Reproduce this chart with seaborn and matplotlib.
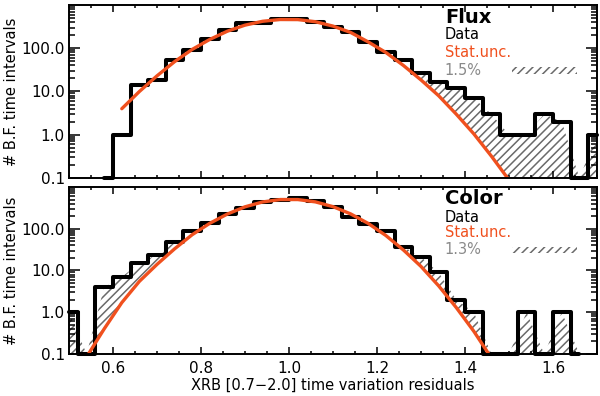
import numpy as np
import matplotlib
matplotlib.use("Agg")
import matplotlib.pyplot as plt
import seaborn as sns
from matplotlib.ticker import FixedLocator, LogLocator, MultipleLocator, FuncFormatter
from matplotlib.patches import Rectangle

# bin centres, bin width 0.04
flux_x = [0.58, 0.62, 0.66, 0.70, 0.74, 0.78, 0.82, 0.86, 0.90, 0.94,
          0.98, 1.02, 1.06, 1.10, 1.14, 1.18, 1.22, 1.26, 1.30, 1.34,
          1.38, 1.42, 1.46, 1.50, 1.54, 1.58, 1.62, 1.66, 1.70]
flux_counts = [0, 1, 14, 18, 53, 91, 164, 264, 377, 380,
               474, 470, 411, 305, 240, 141, 83, 53, 27, 17,
               12, 7, 3, 1, 1, 3, 2, 0, 1]
flux_stat = [np.nan, 4.0, 10, 23, 49, 94, 160, 248, 342, 420,
             462, 460, 410, 325, 232, 140, 80, 40, 18.5, 8.0,
             3.0, 1.05, 0.32, 0.09, np.nan, np.nan, np.nan, np.nan, np.nan]
flux_excess = [(1.28, 1.72)]

color_x = [0.50, 0.54, 0.58, 0.62, 0.66, 0.70, 0.74, 0.78, 0.82, 0.86,
           0.90, 0.94, 0.98, 1.02, 1.06, 1.10, 1.14, 1.18, 1.22, 1.26,
           1.30, 1.34, 1.38, 1.42, 1.46, 1.50, 1.54, 1.58, 1.62, 1.66]
color_counts = [1, 0, 4, 7, 15, 24, 48, 89, 136, 224,
                322, 434, 493, 560, 468, 330, 196, 129, 86, 37,
                21, 9, 2, 1, 0, 0, 1, 0, 1, 0]
color_stat = [np.nan, 0.085, 0.40, 1.7, 5.5, 14, 33, 72, 135, 225,
              335, 438, 500, 500, 440, 338, 227, 134, 69, 31,
              12.5, 4.3, 1.3, 0.35, 0.08, np.nan, np.nan, np.nan, np.nan, np.nan]
color_excess = [(0.48, 0.75), (1.24, 1.70)]

ORANGE = "#F0501E"
HATCH = "#6a6a6a"
GRAY = "#8a8a8a"

sns.set_style("ticks")
plt.rcParams["font.family"] = ["DejaVu Sans"]
plt.rcParams["hatch.color"] = HATCH
plt.rcParams["hatch.linewidth"] = 1.1
plt.rcParams["text.color"] = "black"
plt.rcParams["axes.labelcolor"] = "black"
plt.rcParams["xtick.color"] = "black"
plt.rcParams["ytick.color"] = "black"
plt.rcParams["axes.axisbelow"] = False

fig = plt.figure(figsize=(6.0, 3.96), dpi=100)
ax_top = fig.add_axes([0.115, 0.5505, 0.88, 0.4369])
ax_bot = fig.add_axes([0.115, 0.1061, 0.88, 0.4217])


def draw_panel(ax, x, counts, stat, excess, title, syst, ypos):
    x = np.array(x)
    counts = np.array(counts, dtype=float)
    stat = np.array(stat, dtype=float)
    hist = np.clip(counts, 0.1, None)
    lower = np.clip(np.nan_to_num(stat, nan=0.1), 0.1, None)
    upper = np.maximum(hist, lower)

    for lo, hi in excess:
        mask = (x >= lo) & (x <= hi)
        ax.fill_between(x, lower, upper, where=mask, interpolate=True,
                        facecolor="none", edgecolor=HATCH, hatch="////",
                        linewidth=0, zorder=1)

    sns.lineplot(x=x, y=hist, ax=ax, color="black", linewidth=2.9,
                 drawstyle="steps-mid", estimator=None, sort=False,
                 zorder=3, clip_on=False)
    ok = ~np.isnan(stat)
    sns.lineplot(x=x[ok], y=stat[ok], ax=ax, color=ORANGE, linewidth=2.4,
                 estimator=None, sort=False, zorder=4)

    ax.set_yscale("log")
    ax.set_xlim(0.5, 1.7)
    ax.set_ylim(0.1, 1000)
    ax.yaxis.set_major_locator(FixedLocator([0.1, 1, 10, 100]))
    ax.yaxis.set_minor_locator(LogLocator(base=10, subs=np.arange(2, 10), numticks=20))
    ax.yaxis.set_major_formatter(FuncFormatter(lambda v, p: f"{v:.1f}"))
    ax.xaxis.set_major_locator(MultipleLocator(0.2))
    ax.xaxis.set_minor_locator(MultipleLocator(0.05))
    ax.xaxis.set_major_formatter(FuncFormatter(lambda v, p: f"{v:.1f}"))
    ax.set_axisbelow(False)

    ax.tick_params(which="both", direction="in", top=True, right=True,
                   width=1.1, labelsize=11, color="black", labelcolor="black")
    ax.tick_params(axis="x", which="major", length=5, pad=5)
    ax.tick_params(axis="x", which="minor", length=2.5)
    ax.tick_params(axis="y", which="major", length=8, pad=3)
    ax.tick_params(axis="y", which="minor", length=4)
    for sp in ax.spines.values():
        sp.set_linewidth(1.4)
        sp.set_color("black")
        sp.set_zorder(5)
    ax.set_ylabel("# B.F. time intervals", fontsize=10.5, labelpad=2)
    ax.set_xlabel("")

    tx = 0.712
    ax.text(tx, ypos[0], title, transform=ax.transAxes, fontsize=14,
            fontweight="bold", va="center", ha="left")
    ax.text(tx, ypos[1], "Data", transform=ax.transAxes, fontsize=10.5,
            va="center", ha="left")
    ax.text(tx, ypos[2], "Stat.unc.", transform=ax.transAxes, fontsize=10.5,
            va="center", ha="left", color=ORANGE)
    ax.text(tx, ypos[3], syst, transform=ax.transAxes, fontsize=10.5,
            va="center", ha="left", color=GRAY)
    ax.add_patch(Rectangle((0.839, ypos[3] - 0.02), 0.123, 0.038,
                           transform=ax.transAxes, facecolor="none",
                           edgecolor=HATCH, hatch="////", linewidth=0))


draw_panel(ax_top, flux_x, flux_counts, flux_stat, flux_excess,
           "Flux", "1.5%", (0.925, 0.827, 0.723, 0.624))
draw_panel(ax_bot, color_x, color_counts, color_stat, color_excess,
           "Color", "1.3%", (0.934, 0.82, 0.725, 0.623))

ax_top.tick_params(axis="x", labelbottom=False)
ax_bot.set_xlabel("XRB [0.7\u22122.0] time variation residuals", fontsize=10.5, labelpad=1)

fig.savefig("out.png", dpi=100)
